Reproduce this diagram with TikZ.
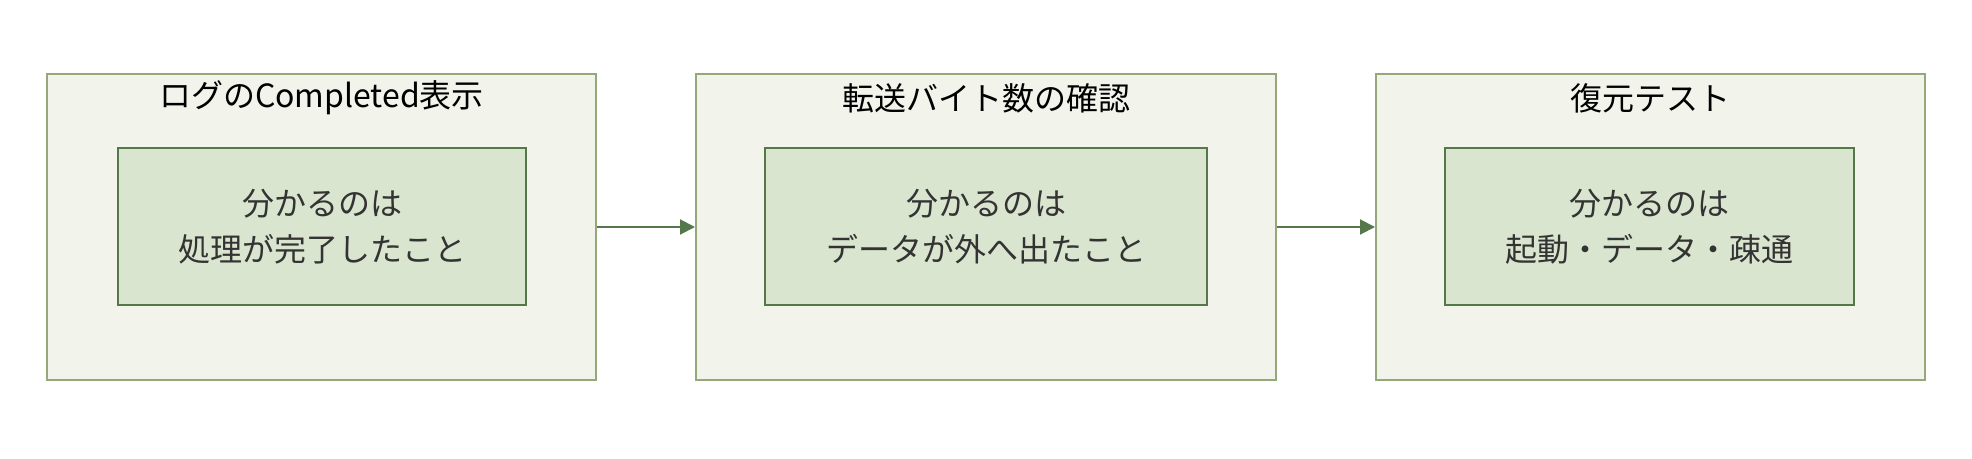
\documentclass[tikz,border=0pt]{standalone}
\usepackage{fontspec}
\setmainfont{Noto Sans CJK JP}
\usetikzlibrary{arrows.meta}
\definecolor{outerfill}{HTML}{F2F3EB}
\definecolor{outerline}{HTML}{95A87A}
\definecolor{innerfill}{HTML}{DAE5CF}
\definecolor{innerline}{HTML}{54784A}
\definecolor{innertext}{HTML}{333333}

\begin{document}
\begin{tikzpicture}[x=1pt,y=-1pt,
  outerbox/.style={draw=outerline,fill=outerfill,line width=2pt,minimum height=306pt,inner sep=0pt},
  innerbox/.style={draw=innerline,fill=innerfill,line width=2pt,minimum height=157pt,inner sep=0pt,
    align=center,text=innertext,font=\fontsize{32}{46}\selectfont},
  titletext/.style={font=\fontsize{32}{36}\selectfont,inner sep=0pt},
  flow/.style={draw=innerline,line width=2pt,-{Triangle[length=15pt,width=15pt]}}]
\useasboundingbox (0,0) rectangle (1972,458);

\node[outerbox,minimum width=549pt] (log) at (321.5,227) {};
\node[outerbox,minimum width=580pt] (bytes) at (986,227) {};
\node[outerbox,minimum width=549pt] (restore) at (1650.5,227) {};

\node[titletext] (logtitle) at (321.5,98) {ログのCompleted表示};
\node[titletext] (bytestitle) at (986,98) {転送バイト数の確認};
\node[titletext] (restoretitle) at (1650.5,98) {復元テスト};

\node[innerbox,minimum width=408pt] (logknow) at (322,226.5) {分かるのは\\処理が完了したこと};
\node[innerbox,minimum width=442pt] (bytesknow) at (986,226.5) {分かるのは\\データが外へ出たこと};
\node[innerbox,minimum width=409pt] (restoreknow) at (1649.5,226.5) {分かるのは\\起動・データ・疎通};

\draw[flow] (log.east) -- (bytes.west);
\draw[flow] (bytes.east) -- (restore.west);

\end{tikzpicture}
\end{document}
